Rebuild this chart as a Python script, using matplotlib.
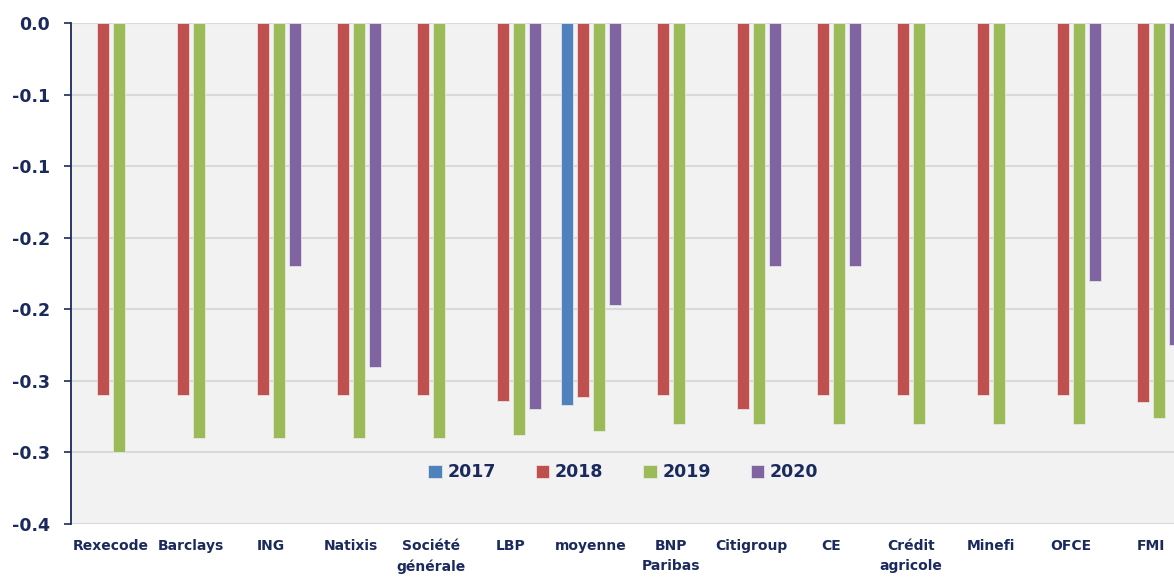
import numpy as np
import matplotlib
matplotlib.use("Agg")
import matplotlib.pyplot as plt

nan = np.nan

categories = ['Rexecode', 'Barclays', 'ING', 'Natixis', 'Société\ngénérale', 'LBP',
              'moyenne', 'BNP\nParibas', 'Citigroup', 'CE', 'Crédit\nagricole',
              'Minefi', 'OFCE', 'FMI']
years = ['2017', '2018', '2019', '2020']
v2017 = [nan, nan, nan, nan, nan, nan, -0.267, nan, nan, nan, nan, nan, nan, nan]
v2018 = [-0.26, -0.26, -0.26, -0.26, -0.26, -0.264, -0.261, -0.26, -0.27, -0.26,
         -0.26, -0.26, -0.26, -0.265]
v2019 = [-0.30, -0.29, -0.29, -0.29, -0.29, -0.288, -0.285, -0.28, -0.28, -0.28,
         -0.28, -0.28, -0.28, -0.276]
v2020 = [nan, nan, -0.17, -0.24, nan, -0.27, -0.197, nan, -0.17, -0.17, nan, nan,
         -0.18, -0.225]
yticks = [0, -0.05, -0.10, -0.15, -0.20, -0.25, -0.30, -0.35]
ytick_labels = ['0.0', '-0.1', '-0.1', '-0.2', '-0.2', '-0.3', '-0.3', '-0.4']

colors = ['#4F81BD', '#C0504D', '#9BBB59', '#8064A2']
navy = '#1B2A5C'

plt.rcParams['font.family'] = ['DejaVu Sans']
plt.rcParams['axes.unicode_minus'] = False

fig = plt.figure(figsize=(11.74, 5.78), dpi=100)
ax = fig.add_axes([71 / 1174, 54 / 578, 1120 / 1174, 501 / 578])
ax.set_facecolor('#F2F2F2')

x = np.arange(len(categories))
series = [v2017, v2018, v2019, v2020]
for i, (vals, col, lab) in enumerate(zip(series, colors, years)):
    ax.bar(x + (i - 1.5) * 0.2, vals, width=0.16, color=col, label=lab,
           edgecolor='#EDEDED', linewidth=0.5, zorder=3)

ax.set_xlim(-0.5, len(categories) - 0.5)
ax.set_ylim(-0.35, 0)
ax.set_yticks(yticks)
ax.set_yticklabels(ytick_labels)
ax.yaxis.grid(True, color='#D9D9D9', linewidth=1.5, zorder=0)
ax.set_axisbelow(True)

ax.set_xticks(x)
ax.set_xticklabels(categories, linespacing=1.5)
ax.tick_params(axis='x', length=0, pad=11, labelsize=10, labelcolor=navy)
ax.tick_params(axis='y', length=5, width=1.2, color=navy, pad=10,
               labelsize=12.5, labelcolor=navy)
for lbl in ax.get_xticklabels() + ax.get_yticklabels():
    lbl.set_fontweight('bold')
for lbl in ax.get_xticklabels():
    lbl.set_verticalalignment('top')

for s in ['top', 'right', 'bottom']:
    ax.spines[s].set_visible(False)
ax.spines['left'].set_color(navy)
ax.spines['left'].set_linewidth(1.3)

leg = ax.legend(loc='center', bbox_to_anchor=(0.493, 0.103), ncol=4, frameon=False,
                handlelength=0.8, handleheight=0.8, handletextpad=0.3,
                columnspacing=2.3, prop={'weight': 'bold', 'size': 12.5})
for t in leg.get_texts():
    t.set_color(navy)

fig.savefig('out.png', dpi=100)
